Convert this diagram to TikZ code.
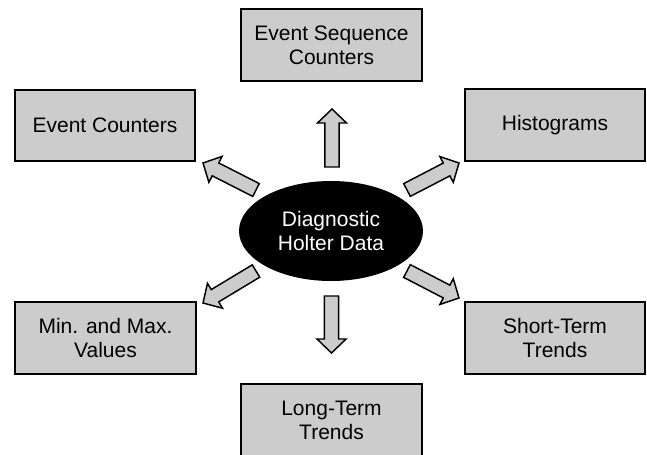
\documentclass[tikz,border=0pt]{standalone}
\usepackage{fontspec}
\setmainfont{Liberation Sans}
\usetikzlibrary{shapes.geometric,calc}

\definecolor{boxgray}{HTML}{CCCCCC}

\begin{document}
\begin{tikzpicture}[x=0.75pt,y=-0.75pt,
    font=\fontsize{15.75}{18}\selectfont,
    databox/.style={rectangle,draw,line width=1.3pt,fill=boxgray,
      minimum width=135.5pt,minimum height=53.5pt,align=center,inner sep=2pt},
    hubnode/.style={ellipse,fill=black,text=white,minimum width=138pt,
      minimum height=75pt,align=center,inner sep=0pt},
    flowarrow/.style={draw,line width=1.1pt,fill=boxgray,line join=miter}]

    \useasboundingbox (0,0) rectangle (647,454);

    % Centre
    \node[hubnode] (hub) at (331,231) {Diagnostic\\Holter Data};

    % Boxes round it
    \node[databox] (seq)   at (331.5,45)  {Event Sequence\\Counters};
    \node[databox] (count) at (105,125.5) {Event Counters};
    \node[databox] (hist)  at (555,125)   {Histograms};
    \node[databox] (minmax) at (105.5,338) {Min. and Max.\\Values};
    \node[databox] (short) at (555,338)   {Short-Term\\Trends};
    \node[databox] (long)  at (331.5,420) {Long-Term\\Trends};

    % Arrow ends
    \coordinate (seq-t) at (332,167);   \coordinate (seq-h) at (332,109);
    \coordinate (count-t) at (256,190); \coordinate (count-h) at (203,163);
    \coordinate (hist-t) at (407,190);  \coordinate (hist-h) at (459,163);
    \coordinate (minmax-t) at (256,271); \coordinate (minmax-h) at (203,303);
    \coordinate (short-t) at (407,271); \coordinate (short-h) at (459,298);
    \coordinate (long-t) at (331.5,296); \coordinate (long-h) at (331.5,353);

    % Block arrows
    \foreach \n in {seq,count,hist,minmax,short,long} {
      \coordinate (\n-c) at ($(\n-h)!10.5pt!(\n-t)$);
      \draw[flowarrow] ($(\n-t)!5.4pt!-90:(\n-h)$)
        -- ($(\n-c)!5.4pt!-90:(\n-h)$) -- ($(\n-c)!10.9pt!-90:(\n-h)$)
        -- (\n-h)
        -- ($(\n-c)!10.9pt!90:(\n-h)$) -- ($(\n-c)!5.4pt!90:(\n-h)$)
        -- ($(\n-t)!5.4pt!90:(\n-h)$) -- cycle;
    }
  \end{tikzpicture}
\end{document}
